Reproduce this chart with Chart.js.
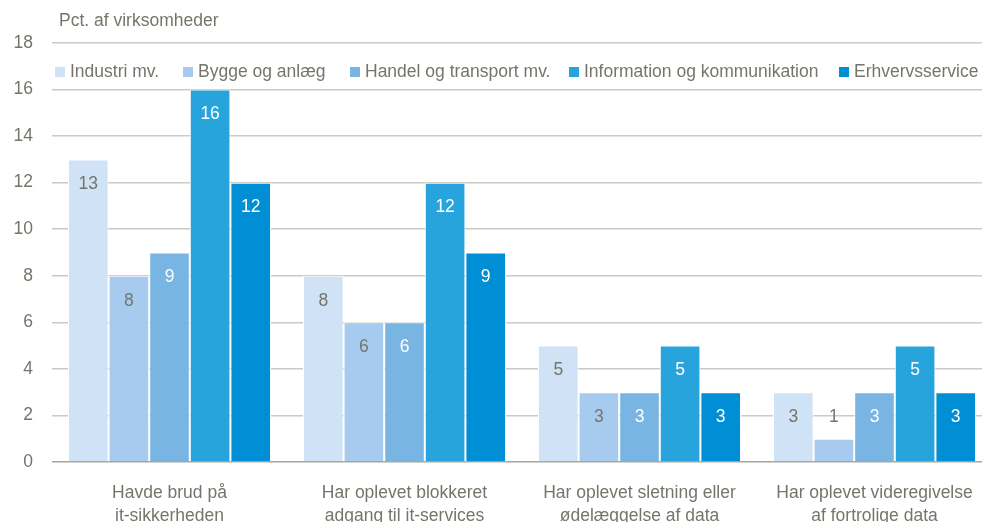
<!DOCTYPE html>
<html>
<head>
<meta charset="utf-8">
<script src="https://cdn.jsdelivr.net/npm/chart.js@4.4.1/dist/chart.umd.min.js"></script>
<style>
  html, body { margin: 0; padding: 0; background: #fff; overflow: hidden; }
  #wrap { width: 1000px; height: 522px; position: relative; }
</style>
</head>
<body>
<div id="wrap"><canvas id="chart"></canvas></div>
<script>
// data
const categories = [
    ["Havde brud på", "it-sikkerheden"],
    ["Har oplevet blokkeret", "adgang til it-services"],
    ["Har oplevet sletning eller", "ødelæggelse af data"],
    ["Har oplevet videregivelse", "af fortrolige data"]
];
const seriesNames = ["Industri mv.", "Bygge og anlæg", "Handel og transport mv.", "Information og kommunikation", "Erhvervsservice"];
const industri = [13, 8, 5, 3];
const bygge = [8, 6, 3, 1];
const handel = [9, 6, 3, 3];
const information = [16, 12, 5, 5];
const erhverv = [12, 9, 3, 3];
const yTicks = [0, 2, 4, 6, 8, 10, 12, 14, 16, 18];

const colors = ["#CFE2F6", "#A6CBEE", "#79B5E3", "#28A4DD", "#008FD5"];
const labelColors = ["#76756B", "#76756B", "#FFFFFF", "#FFFFFF", "#FFFFFF"];
const textColor = "#76756B";
const FONT = "'Liberation Sans', Arial, sans-serif";
const legendX = [55, 183, 350, 569, 839];

const seriesValues = [industri, bygge, handel, information, erhverv];

// value labels inside the top of each bar, plus title and legend
const extras = {
    id: "extras",
    afterDatasetsDraw(chart) {
        const ctx = chart.ctx;
        ctx.save();
        ctx.font = "17.5px " + FONT;
        ctx.textAlign = "center";
        ctx.textBaseline = "middle";
        chart.data.datasets.forEach((ds, i) => {
            const meta = chart.getDatasetMeta(i);
            meta.data.forEach((bar, j) => {
                const h = bar.base - bar.y;
                if (h < 40) {
                    // too short: label sits above the bar
                    ctx.fillStyle = textColor;
                    ctx.fillText(String(ds.data[j]), bar.x, bar.y - 22);
                } else {
                    ctx.fillStyle = labelColors[i];
                    ctx.fillText(String(ds.data[j]), bar.x, bar.y + 25);
                }
            });
        });

        // title
        ctx.textAlign = "left";
        ctx.fillStyle = textColor;
        ctx.fillText("Pct. af virksomheder", 59, 21);

        // legend
        seriesNames.forEach((name, i) => {
            const x = legendX[i];
            ctx.fillStyle = colors[i];
            ctx.fillRect(x, 67, 10, 10);
            ctx.fillStyle = textColor;
            ctx.fillText(name, x + 15, 72);
        });
        ctx.restore();
    }
};

new Chart(document.getElementById("chart"), {
    type: "bar",
    data: {
        labels: categories,
        datasets: seriesNames.map((name, i) => ({
            label: name,
            data: seriesValues[i],
            backgroundColor: colors[i],
            borderColor: "#FFFFFF",
            borderWidth: 1,
            categoryPercentage: 0.864,
            barPercentage: 1.0
        }))
    },
    options: {
        responsive: true,
        maintainAspectRatio: false,
        animation: false,
        layout: { padding: { top: 43, right: 8, left: 0, bottom: 0 } },
        plugins: {
            legend: { display: false },
            tooltip: { enabled: false }
        },
        scales: {
            x: {
                grid: { display: false },
                border: { display: false },
                ticks: {
                    color: textColor,
                    font: { family: FONT, size: 17.5, lineHeight: 1.3 },
                    padding: 12,
                    maxRotation: 0,
                    autoSkip: false
                },
                afterFit(scale) { scale.height = 60; }
            },
            y: {
                min: 0,
                max: 18,
                afterBuildTicks(scale) { scale.ticks = yTicks.map(v => ({ value: v })); },
                grid: {
                    drawTicks: false,
                    color: c => c.tick && c.tick.value === 0 ? "#A8A59B" : "#CDCAC1",
                    lineWidth: 1.5
                },
                border: { display: false },
                ticks: {
                    color: textColor,
                    font: { family: FONT, size: 17.5 },
                    padding: 19
                },
                afterFit(scale) { scale.width = 52; }
            }
        }
    },
    plugins: [extras]
});
</script>
</body>
</html>
